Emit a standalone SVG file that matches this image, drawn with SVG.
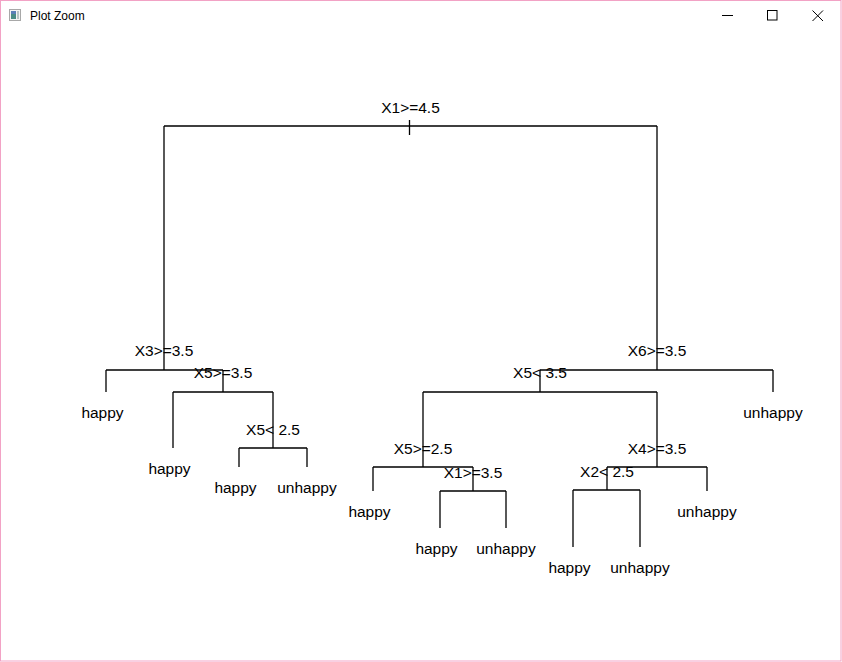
<svg xmlns="http://www.w3.org/2000/svg" width="842" height="662" viewBox="0 0 842 662">
  <style>
    .lbl { font-family: "Liberation Sans", Arial, sans-serif; font-size: 15.5px; fill: #000; text-anchor: middle; }
    .title { font-family: "Liberation Sans", Arial, sans-serif; font-size: 12px; fill: #000; }
    .edge { fill: none; stroke: #000; stroke-width: 1.3; }
    .win { fill: none; stroke: #000; stroke-width: 1; }
  </style>
  <rect x="0" y="0" width="842" height="662" fill="#ffffff"/>
  <rect x="0.5" y="0.5" width="840.5" height="660.5" fill="none" stroke="#f2a2c5" stroke-width="1"/>

  <g id="titlebar">
    <rect x="9.5" y="9.5" width="11" height="11" fill="#f4f4f4" stroke="#a8a8a8" stroke-width="1"/>
    <rect x="11" y="11" width="5" height="8" fill="#4a8c86"/>
    <rect x="11" y="11" width="5" height="3" fill="#5b7fb8"/>
    <rect x="17" y="11" width="2" height="8" fill="#b8c4c4"/>
    <text class="title" x="30" y="19.5">Plot Zoom</text>
    <line class="win" x1="722" y1="15.5" x2="733" y2="15.5"/>
    <rect class="win" x="767.5" y="10.5" width="9.5" height="9.5"/>
    <path class="win" d="M812.5,10.5 L823,21 M823,10.5 L812.5,21"/>
  </g>

  <g id="connectors">
    <path class="edge" d="M164,126 H657 M409.5,120 V135 M164,126 V370 M657,126 V370"/>
    <path class="edge" d="M106,370 H223 M106,370 V392"/>
    <path class="edge" d="M223,370 V392 M173,392 H273 M173,392 V448 M273,392 V448"/>
    <path class="edge" d="M239,448 H307 M239,448 V467 M307,448 V467"/>
    <path class="edge" d="M540,370 H773 M773,370 V392 M540,370 V392"/>
    <path class="edge" d="M423,392 H657 M423,392 V467 M657,392 V467"/>
    <path class="edge" d="M373,467 H473 M373,467 V491 M473,467 V491"/>
    <path class="edge" d="M440,491 H506 M440,491 V528 M506,491 V528"/>
    <path class="edge" d="M607,467 H707 M707,467 V491 M607,467 V490"/>
    <path class="edge" d="M573,490 H640 M573,490 V547 M640,490 V547"/>
  </g>

  <g id="node-root"><text class="lbl" x="410.5" y="112.5">X1&gt;=4.5</text></g>
  <g id="node-x3"><text class="lbl" x="164" y="356">X3&gt;=3.5</text></g>
  <g id="leaf-l1"><text class="lbl" x="102.5" y="417.5">happy</text></g>
  <g id="node-x5a"><text class="lbl" x="223" y="378">X5&gt;=3.5</text></g>
  <g id="leaf-l2"><text class="lbl" x="169.5" y="473.5">happy</text></g>
  <g id="node-x5b"><text class="lbl" x="273" y="434.5">X5&lt; 2.5</text></g>
  <g id="leaf-l3"><text class="lbl" x="235.5" y="492.5">happy</text></g>
  <g id="leaf-l4"><text class="lbl" x="307" y="492.5">unhappy</text></g>

  <g id="node-x6"><text class="lbl" x="657" y="356">X6&gt;=3.5</text></g>
  <g id="leaf-r1"><text class="lbl" x="773" y="417.5">unhappy</text></g>
  <g id="node-x5c"><text class="lbl" x="540" y="378">X5&lt; 3.5</text></g>
  <g id="node-x5d"><text class="lbl" x="423" y="453.5">X5&gt;=2.5</text></g>
  <g id="leaf-r2"><text class="lbl" x="369.5" y="516.5">happy</text></g>
  <g id="node-x1b"><text class="lbl" x="473" y="477.5">X1&gt;=3.5</text></g>
  <g id="leaf-r3"><text class="lbl" x="436.5" y="553.5">happy</text></g>
  <g id="leaf-r4"><text class="lbl" x="506" y="553.5">unhappy</text></g>
  <g id="node-x4"><text class="lbl" x="657" y="453.5">X4&gt;=3.5</text></g>
  <g id="leaf-r5"><text class="lbl" x="707" y="516.5">unhappy</text></g>
  <g id="node-x2"><text class="lbl" x="607" y="476.5">X2&lt; 2.5</text></g>
  <g id="leaf-r6"><text class="lbl" x="569.5" y="572.5">happy</text></g>
  <g id="leaf-r7"><text class="lbl" x="640" y="572.5">unhappy</text></g>
</svg>
